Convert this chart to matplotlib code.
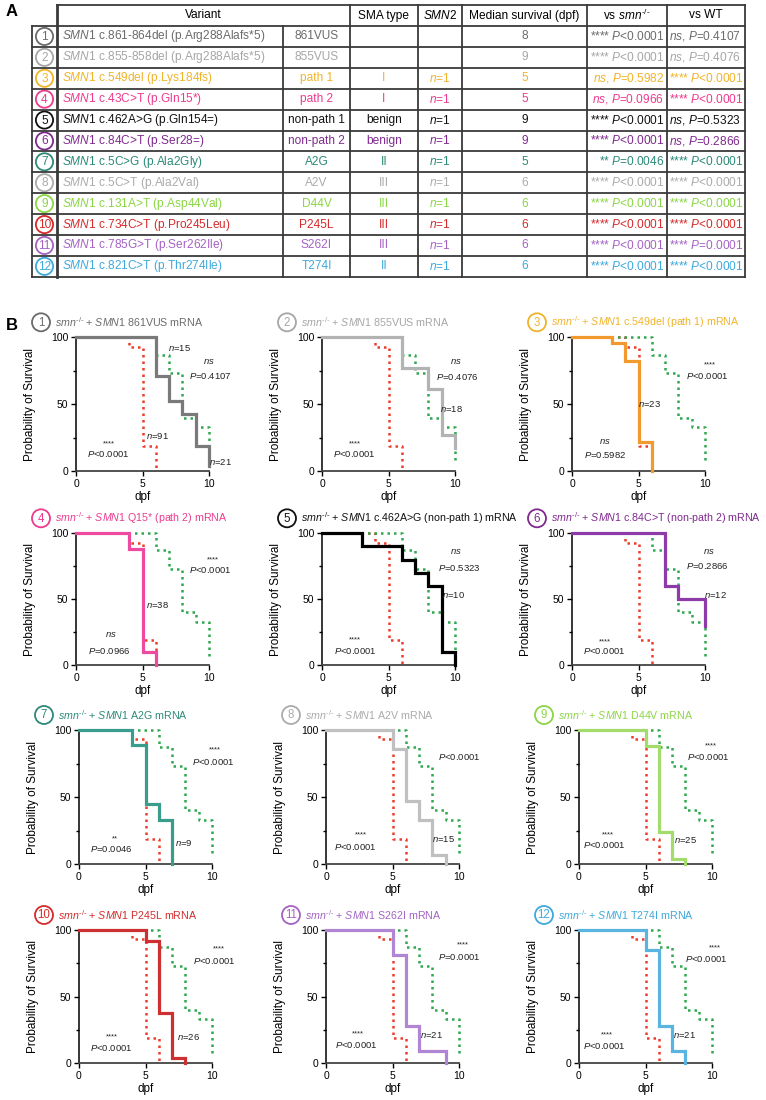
import matplotlib
matplotlib.use("Agg")
import matplotlib.pyplot as plt
from matplotlib.patches import Circle
from matplotlib.ticker import MultipleLocator

plt.rcParams['font.family'] = ['Liberation Sans', 'DejaVu Sans']
plt.rcParams['mathtext.fontset'] = 'custom'
plt.rcParams['mathtext.rm'] = 'Liberation Sans'
plt.rcParams['mathtext.it'] = 'Liberation Sans:italic'
plt.rcParams['mathtext.bf'] = 'Liberation Sans:bold'

# ── Table data (panel A) ───────────────────────────────
variants = ["c.861-864del (p.Arg288Alafs*5)", "c.855-858del (p.Arg288Alafs*5)",
            "c.549del (p.Lys184fs)", "c.43C>T (p.Gln15*)", "c.462A>G (p.Gln154=)",
            "c.84C>T (p.Ser28=)", "c.5C>G (p.Ala2Gly)", "c.5C>T (p.Ala2Val)",
            "c.131A>T (p.Asp44Val)", "c.734C>T (p.Pro245Leu)", "c.785G>T (p.Ser262Ile)",
            "c.821C>T (p.Thr274Ile)"]
abbrevs = ["861VUS", "855VUS", "path 1", "path 2", "non-path 1", "non-path 2",
           "A2G", "A2V", "D44V", "P245L", "S262I", "T274I"]
sma_types = ["", "", "I", "I", "benign", "benign", "II", "III", "III", "III", "III", "II"]
smn2 = ["", ""] + ["n=1"] * 10
medians = [8, 9, 5, 5, 9, 9, 5, 6, 6, 6, 6, 6]
vs_smn = ["**** P<0.0001", "**** P<0.0001", "ns, P=0.5982", "ns, P=0.0966",
          "**** P<0.0001", "**** P<0.0001", "** P=0.0046", "**** P<0.0001",
          "**** P<0.0001", "**** P<0.0001", "**** P<0.0001", "**** P<0.0001"]
vs_wt = ["ns, P=0.4107", "ns, P=0.4076", "**** P<0.0001", "**** P<0.0001",
         "ns, P=0.5323", "ns, P=0.2866", "**** P<0.0001", "**** P<0.0001",
         "**** P<0.0001", "**** P<0.0001", "**** P=0.0001", "**** P<0.0001"]

text_colors = ['#6b6b6b', '#a6a6a6', '#f0b429', '#ec3b8e', '#111111', '#80298f',
               '#2b8a78', '#ababab', '#8bd645', '#d42b2b', '#a463c4', '#3ea9dc']
curve_colors = ['#7a7a7a', '#b3b3b3', '#f39a2e', '#ee4aa0', '#000000', '#8e3aa8',
                '#3a9c8a', '#c0c0c0', '#a3dc6a', '#cc3030', '#b086d4', '#5ab4e0']

# ── Survival data (panel B) ────────────────────────────
titles = ["861VUS", "855VUS", "c.549del (path 1)", "Q15* (path 2)",
          "c.462A>G (non-path 1)", "c.84C>T (non-path 2)", "A2G", "A2V",
          "D44V", "P245L", "S262I", "T274I"]
smn_times = [4, 5, 6]
smn_surv = [93, 19, 0]
wt_times = [6, 7, 8, 9, 10]
wt_surv = [87, 73, 40, 33, 7]
var_times = [[6, 7, 8, 9, 10], [6, 8, 9, 10], [3, 4, 5, 6], [4, 5, 6],
             [3, 6, 7, 8, 9, 10], [7, 8, 10], [4, 5, 6, 7], [5, 6, 7, 8, 9],
             [5, 6, 7, 8], [5, 6, 7, 8], [5, 6, 7, 9], [5, 6, 7, 8]]
var_surv = [[71, 52, 43, 19, 4], [77, 61, 27, 17], [96, 82, 22, 0], [88, 10, 0],
            [90, 80, 70, 60, 10, 0], [60, 50, 30], [89, 45, 33, 0], [86, 47, 33, 7, 0],
            [88, 24, 4, 0], [92, 38, 4, 0], [81, 28, 9, 0], [85, 28, 9, 0]]

annotations = [
    [("n=15", 7.8, 92), ("ns", 10.0, 82), ("P=0.4107", 10.1, 71), ("****", 2.5, 20),
     ("P<0.0001", 2.4, 12.5), ("n=91", 6.1, 26), ("n=21", 10.9, 7)],
    [("ns", 10.1, 82), ("P=0.4076", 10.2, 70), ("n=18", 9.7, 46), ("****", 2.5, 20),
     ("P<0.0001", 2.4, 12.5)],
    [("****", 10.4, 79), ("P<0.0001", 10.2, 71), ("n=23", 5.8, 50), ("ns", 2.5, 22),
     ("P=0.5982", 2.5, 12)],
    [("****", 10.3, 80), ("P<0.0001", 10.1, 72), ("n=38", 6.1, 46), ("ns", 2.6, 23),
     ("P=0.0966", 2.5, 11)],
    [("ns", 10.1, 86), ("P=0.5323", 10.3, 74), ("n=10", 9.9, 53), ("****", 2.5, 19),
     ("P<0.0001", 2.5, 11)],
    [("ns", 10.3, 86), ("P=0.2866", 10.2, 75), ("n=12", 10.8, 53), ("****", 2.5, 18),
     ("P<0.0001", 2.4, 11)],
    [("****", 10.2, 85), ("P<0.0001", 10.1, 76), ("n=9", 7.9, 16), ("**", 2.7, 19),
     ("P=0.0046", 2.4, 11)],
    [("P<0.0001", 10.0, 80), ("n=15", 8.8, 19), ("****", 2.6, 22), ("P<0.0001", 2.2, 13)],
    [("****", 9.9, 88), ("P<0.0001", 9.7, 80), ("n=25", 8.0, 18), ("****", 2.2, 22),
     ("P<0.0001", 1.9, 14)],
    [("****", 10.5, 86), ("P<0.0001", 10.2, 77), ("n=26", 8.2, 20), ("****", 2.5, 20),
     ("P<0.0001", 2.4, 11.5)],
    [("****", 10.3, 89), ("P=0.0001", 10.0, 79.5), ("n=21", 7.9, 21.5), ("****", 2.4, 22),
     ("P<0.0001", 2.3, 14)],
    [("****", 10.2, 86.5), ("P<0.0001", 9.6, 78), ("n=21", 7.9, 21.5), ("****", 2.1, 21),
     ("P<0.0001", 1.9, 13)],
]

SMN_KO = r"$\mathit{smn}^{\mathrm{‐/‐}}$"


def fmt(s):
    """italicise ns / P / n the way the figure does"""
    if s.startswith("ns, "):
        return r"$\mathit{ns}$, $\mathit{P}$" + s[5:]
    if s == "ns":
        return r"$\mathit{ns}$"
    if s.startswith("n="):
        return r"$\mathit{n}$" + s[1:]
    if s.startswith("P"):
        return r"$\mathit{P}$" + s[1:]
    if " P" in s:
        stars, rest = s.split(" ", 1)
        return stars + r" $\mathit{P}$" + rest[1:]
    return s


W, H = 766, 1100
fig = plt.figure(figsize=(W / 100, H / 100), dpi=100)
ov = fig.add_axes([0, 0, 1, 1])
ov.set_xlim(0, W)
ov.set_ylim(H, 0)
ov.axis("off")

# ── Panel A: table ─────────────────────────────────────
cols = [32, 57, 283, 350, 418, 462, 587, 667, 745]
top, head_bot, row_h = 5, 26, 20.9
n_rows = len(variants)
bot = head_bot + row_h * n_rows
lc, lw = '#3a3a3a', 1.3

ov.plot([57, 745], [top, top], color=lc, lw=lw)
for k in range(n_rows + 1):
    y = head_bot + k * row_h
    ov.plot([32, 745], [y, y], color=lc, lw=lw)
for x in cols:
    y0 = top if x not in (32, 283) else head_bot
    ov.plot([x, x], [y0, bot], color=lc, lw=lw if x != 57 else 2.0)

fs = 8.6
hy = (top + head_bot) / 2
ov.text((57 + 350) / 2, hy, "Variant", ha="center", va="center", fontsize=fs)
ov.text(384, hy, "SMA type", ha="center", va="center", fontsize=fs)
ov.text(440, hy, r"$\mathit{SMN2}$", ha="center", va="center", fontsize=fs)
ov.text(524.5, hy, "Median survival (dpf)", ha="center", va="center", fontsize=fs)
ov.text(627, hy, "vs " + SMN_KO, ha="center", va="center", fontsize=fs)
ov.text(706, hy, "vs WT", ha="center", va="center", fontsize=fs)

for i in range(n_rows):
    cy = head_bot + row_h * (i + 0.5)
    col = text_colors[i]
    ov.add_patch(Circle((44.5, cy), 8.6, fill=False, ec=col, lw=1.3))
    ov.text(44.5, cy + 0.5, str(i + 1), ha="center", va="center", fontsize=fs, color=col)
    ov.text(62, cy, r"$\mathit{SMN1}$ " + variants[i], ha="left", va="center",
            fontsize=fs, color=col)
    ov.text(316.5, cy, abbrevs[i], ha="center", va="center", fontsize=fs, color=col)
    ov.text(384, cy, sma_types[i], ha="center", va="center", fontsize=fs, color=col)
    if smn2[i]:
        ov.text(440, cy, fmt(smn2[i]), ha="center", va="center", fontsize=fs, color=col)
    ov.text(524.5, cy, str(medians[i]), ha="center", va="center", fontsize=fs, color=col)
    ov.text(664, cy, fmt(vs_smn[i]), ha="right", va="center", fontsize=fs, color=col)
    ov.text(669, cy, fmt(vs_wt[i]), ha="left", va="center", fontsize=fs, color=col)

ov.text(6, 12, "A", fontsize=12, fontweight="bold", va="center")
ov.text(6, 325, "B", fontsize=12, fontweight="bold", va="center")

# ── Panel B: survival curves ───────────────────────────
row_tops = [337.3, 533.3, 730, 930]
row_bots = [471, 665.3, 864, 1063.3]
col_lefts = [[76, 322, 572], [76, 322, 572], [79, 326, 579], [79, 326, 579]]
ax_w = 133


def steps(times, surv):
    return [0] + list(times), [100] + list(surv)


for i in range(12):
    r, c = divmod(i, 3)
    left, t, b = col_lefts[r][c], row_tops[r], row_bots[r]
    ax = fig.add_axes([left / W, 1 - b / H, ax_w / W, (b - t) / H])

    x, y = steps(smn_times, smn_surv)
    ax.plot(x, y, drawstyle="steps-post", color="#ee3b2b", lw=1.8,
            linestyle=(0, (1, 1.6)), clip_on=False, zorder=2)
    x, y = steps(wt_times, wt_surv)
    ax.plot(x, y, drawstyle="steps-post", color="#2fa84f", lw=1.8,
            linestyle=(0, (1, 1.6)), clip_on=False, zorder=2)
    x, y = steps(var_times[i], var_surv[i])
    ax.plot(x, y, drawstyle="steps-post", color=curve_colors[i], lw=2.3,
            clip_on=False, zorder=3, solid_joinstyle="miter")

    ax.set_xlim(0, 10)
    ax.set_ylim(0, 100)
    ax.set_xticks([0, 5, 10])
    ax.set_yticks([0, 50, 100])
    ax.yaxis.set_minor_locator(MultipleLocator(25))
    ax.tick_params(labelsize=7.5, length=3.5, width=1, direction="out", pad=2)
    ax.tick_params(which="minor", length=2.5, width=1)
    for s in ("top", "right"):
        ax.spines[s].set_visible(False)
    ax.spines["left"].set_linewidth(1.1)
    ax.spines["bottom"].set_linewidth(1.3)
    ax.spines["bottom"].set_color("#444444")
    ax.patch.set_alpha(0)

    ax.set_ylabel("Probability of Survival", fontsize=8.5)
    ax.yaxis.set_label_coords(-0.3, 0.5)
    ax.set_xlabel("dpf", fontsize=8.5)
    ax.xaxis.set_label_coords(0.5, -0.15)

    for txt, tx, ty in annotations[i]:
        size = 5.5 if set(txt) == {"*"} else 6.8
        ax.text(tx, ty, fmt(txt), ha="center", va="center", fontsize=size,
                color="#222222", clip_on=False)

    # panel title with numbered circle
    col = text_colors[i]
    cx, cy = left - 35, t - 15
    ov.add_patch(Circle((cx, cy), 9, fill=False, ec=col, lw=1.3))
    ov.text(cx, cy + 0.5, str(i + 1), ha="center", va="center", fontsize=8.3, color=col)
    ov.text(cx + 14, cy, SMN_KO + " + " + r"$\mathit{SMN1}$ " + titles[i] + " mRNA",
            ha="left", va="center", fontsize=7.7, color=col)

plt.savefig("out.png", dpi=100)
plt.close()
